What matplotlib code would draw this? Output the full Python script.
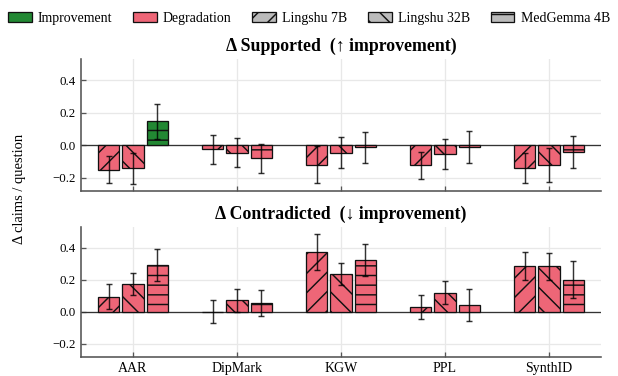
import numpy as np
import matplotlib
matplotlib.use("Agg")
import matplotlib.pyplot as plt
from matplotlib.patches import Patch

methods = ["AAR", "DipMark", "KGW", "PPL", "SynthID"]
models = ["Lingshu 7B", "Lingshu 32B", "MedGemma 4B"]
hatches = ["//", "\\\\", "--"]

# delta supported claims / question (higher = better)
sup_l7 = [-0.150, -0.026, -0.119, -0.124, -0.142]
sup_l32 = [-0.143, -0.045, -0.046, -0.056, -0.120]
sup_mg4 = [0.146, -0.081, -0.012, -0.010, -0.044]
sup_l7_err = [0.085, 0.087, 0.113, 0.084, 0.092]
sup_l32_err = [0.097, 0.087, 0.097, 0.093, 0.104]
sup_mg4_err = [0.105, 0.087, 0.095, 0.097, 0.099]

# delta contradicted claims / question (lower = better)
con_l7 = [0.095, 0.000, 0.373, 0.028, 0.285]
con_l32 = [0.175, 0.071, 0.236, 0.120, 0.283]
con_mg4 = [0.289, 0.055, 0.323, 0.042, 0.201]
con_l7_err = [0.078, 0.072, 0.114, 0.075, 0.089]
con_l32_err = [0.069, 0.070, 0.070, 0.072, 0.082]
con_mg4_err = [0.100, 0.082, 0.100, 0.100, 0.114]

GREEN = "#228833"
RED = "#EE6677"

plt.rcParams["font.family"] = ["Liberation Serif", "DejaVu Serif"]
plt.rcParams["hatch.linewidth"] = 0.9

DPI = 116
fig = plt.figure(figsize=(618 / DPI, 376 / DPI), dpi=DPI)
ax1 = fig.add_axes([0.131, 0.4928, 0.8415, 0.3502])
ax2 = fig.add_axes([0.131, 0.0513, 0.8415, 0.3458])

x = np.arange(len(methods))
offs = [-0.235, 0.0, 0.235]
w = 0.205


def panel(ax, vals, errs, better_up, title):
    for k in range(3):
        v = np.array(vals[k])
        if better_up:
            cols = [GREEN if a > 0 else RED for a in v]
        else:
            cols = [GREEN if a < 0 else RED for a in v]
        ax.bar(x + offs[k], v, w, color=cols, edgecolor="#111111",
               linewidth=0.8, hatch=hatches[k], zorder=3)
        ax.errorbar(x + offs[k], v, yerr=errs[k], fmt="none", ecolor="black",
                    alpha=0.8, elinewidth=0.9, capsize=1.8, capthick=0.9, zorder=4)
    ax.axhline(0, color="#333333", lw=0.8, zorder=2)
    ax.set_xlim(-0.5, 4.5)
    ax.set_ylim(-0.28, 0.53)
    ax.set_yticks([-0.2, 0.0, 0.2, 0.4])
    ax.set_xticks(x)
    ax.grid(True, color="#e8e8e8", lw=0.8, zorder=0)
    for s in ["top", "right"]:
        ax.spines[s].set_visible(False)
    for s in ["left", "bottom"]:
        ax.spines[s].set_color("#555555")
        ax.spines[s].set_linewidth(1.0)
    ax.tick_params(direction="in", length=3, color="#555555", width=0.8)
    ax.tick_params(axis="y", labelsize=8, pad=3)
    ax.tick_params(axis="x", labelsize=8.6, pad=3)
    ax.set_title(title, fontsize=11, fontweight="bold", pad=5)


panel(ax1, [sup_l7, sup_l32, sup_mg4], [sup_l7_err, sup_l32_err, sup_mg4_err],
      True, "Δ Supported  (↑ improvement)")
ax1.set_xticklabels([])
panel(ax2, [con_l7, con_l32, con_mg4], [con_l7_err, con_l32_err, con_mg4_err],
      False, "Δ Contradicted  (↓ improvement)")
ax2.set_xticklabels(methods)

fig.text(0.032, 0.497, "Δ claims / question", rotation=90, ha="center",
         va="center", fontsize=9)

handles = [Patch(facecolor=GREEN, edgecolor="#111111", lw=0.8, label="Improvement"),
           Patch(facecolor=RED, edgecolor="#111111", lw=0.8, label="Degradation")]
for m, h in zip(models, hatches):
    handles.append(Patch(facecolor="#bbbbbb", edgecolor="#111111", lw=0.8,
                         hatch=h, label=m))
fig.legend(handles=handles, loc="center", bbox_to_anchor=(0.5, 0.952), ncol=5,
           frameon=False, fontsize=8.6, handlelength=1.7, handleheight=0.7,
           handletextpad=0.45, columnspacing=1.5)

fig.savefig("out.png", dpi=DPI)
